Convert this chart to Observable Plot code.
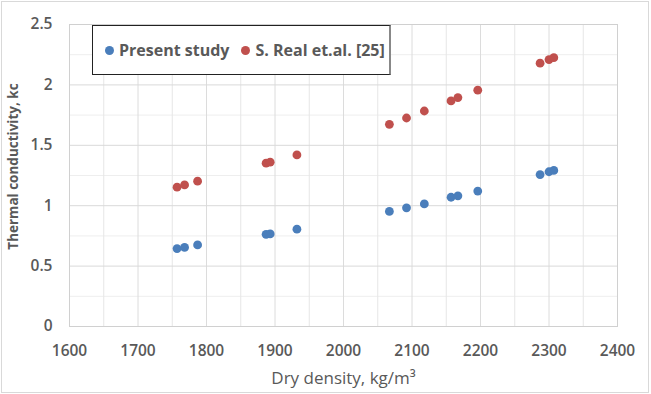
<!DOCTYPE html>
<html>
<head>
<meta charset="utf-8">
<script src="https://cdn.jsdelivr.net/npm/d3@7"></script>
<script src="https://cdn.jsdelivr.net/npm/@observablehq/plot@0.6"></script>
<style>
  html, body { margin: 0; padding: 0; background: #fff; }
  #wrap { position: relative; width: 651px; height: 394px; }
  #border { position: absolute; left: 1px; top: 1px; width: 646px; height: 390px; border: 1px solid #d9d9d9; pointer-events: none; }
  #legend { position: absolute; left: 92px; top: 25px; width: 299px; height: 50px; border: 1px solid #222; border-right: 2px solid #888; background: #fff; box-sizing: border-box;
    font-family: "Open Sans", sans-serif; font-weight: 700; font-size: 16px; color: #595959; display: flex; align-items: center; }
  .item { display: flex; align-items: center; white-space: nowrap; }
  .sw { width: 9px; height: 9px; border-radius: 50%; display: inline-block; margin-right: 5px; }
</style>
</head>
<body>
<div id="wrap"><div id="chart"></div><div id="legend"></div><div id="border"></div></div>
<script>
const seriesNames = ["Present study", "S. Real et.al. [25]"];
const seriesColors = ["#4a7ebb", "#c0504d"];
const density = [1757, 1768, 1787, 1887, 1893, 1932, 2067, 2092, 2118, 2157, 2167, 2196, 2287, 2300, 2307];
const present = [0.645, 0.655, 0.675, 0.763, 0.766, 0.806, 0.953, 0.982, 1.015, 1.070, 1.082, 1.121, 1.258, 1.281, 1.292];
const real = [1.153, 1.172, 1.203, 1.352, 1.360, 1.420, 1.674, 1.726, 1.784, 1.867, 1.895, 1.956, 2.180, 2.210, 2.225];
const xTicks = [1600, 1700, 1800, 1900, 2000, 2100, 2200, 2300, 2400];
const xMinor = [1650, 1750, 1850, 1950, 2050, 2150, 2250, 2350];
const yTicks = [0, 0.5, 1, 1.5, 2, 2.5];
const yMinor = [0.25, 0.75, 1.25, 1.75, 2.25];
const xTitle = "Dry density, kg/m³";
const yTitle = "Thermal conductivity, kc";

const data = [];
density.forEach((d, i) => {
  data.push({x: d, y: present[i], s: seriesNames[0]});
  data.push({x: d, y: real[i], s: seriesNames[1]});
});

const chart = Plot.plot({
  width: 651,
  height: 394,
  marginLeft: 69,
  marginRight: 34,
  marginTop: 24,
  marginBottom: 68,
  style: {fontFamily: "Open Sans, sans-serif", fontSize: "15.5px", fontWeight: 600, color: "#595959", background: "transparent"},
  x: {domain: [1600, 2400]},
  y: {domain: [0, 2.5]},
  color: {domain: seriesNames, range: seriesColors},
  marks: [
    Plot.ruleY(yMinor, {stroke: "#eeeeee"}),
    Plot.ruleX(xMinor, {stroke: "#e6e6e6"}),
    Plot.ruleX(xTicks, {stroke: "#dcdcdc"}),
    Plot.ruleY(yTicks, {stroke: "#d9d9d9"}),
    Plot.frame({stroke: "#d0d0d0"}),
    Plot.axisX(xTicks, {tickSize: 0, tickPadding: 18, label: null, tickFormat: d => String(d), fill: "#595959"}),
    Plot.axisY(yTicks, {tickSize: 0, tickPadding: 17, label: null, tickFormat: d => String(d), fill: "#595959"}),
    Plot.text([xTitle], {frameAnchor: "bottom", dy: 57, fontWeight: 400, fontSize: 17, fill: "#595959"}),
    Plot.text([yTitle], {frameAnchor: "left", textAnchor: "middle", dx: -56, dy: -9, rotate: -90, fontWeight: 700, fontSize: 13.5, fill: "#595959"}),
    Plot.dot(data, {x: "x", y: "y", fill: "s", r: 4.4})
  ]
});
document.getElementById("chart").appendChild(chart);

const legend = document.getElementById("legend");
seriesNames.forEach((n, i) => {
  const item = document.createElement("span");
  item.className = "item";
  item.style.marginLeft = "12px";
  const sw = document.createElement("span");
  sw.className = "sw";
  sw.style.background = seriesColors[i];
  item.appendChild(sw);
  item.appendChild(document.createTextNode(n));
  legend.appendChild(item);
});
</script>
</body>
</html>
